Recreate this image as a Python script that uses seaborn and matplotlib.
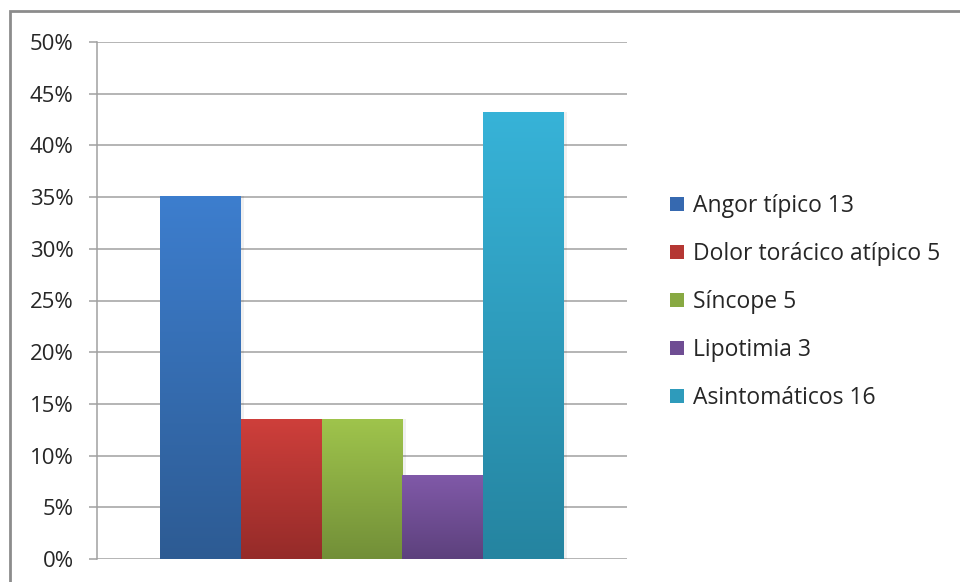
import numpy as np
import pandas as pd
import matplotlib
matplotlib.use("Agg")
import matplotlib.pyplot as plt
import matplotlib.colors as mcolors
from matplotlib.patches import Rectangle
from matplotlib.ticker import MultipleLocator, PercentFormatter
import seaborn as sns

# Síntomas de presentación (porcentaje de pacientes)
categorias = ["Angor típico 13", "Dolor torácico atípico 5", "Síncope 5",
              "Lipotimia 3", "Asintomáticos 16"]
porcentajes = [35.1, 13.5, 13.5, 8.1, 43.2]

# gradient colours per bar: (top, bottom)
colores_sup = ["#3D7ECE", "#CE3F3B", "#9FC44C", "#8059A8", "#37B3D8"]
colores_inf = ["#2D5B93", "#952B29", "#728F38", "#5D417D", "#2584A0"]
colores_med = ["#3669B0", "#B53733", "#88A942", "#6F4D93", "#2E9BBB"]

df = pd.DataFrame({"categoria": categorias, "porcentaje": porcentajes})

sns.set_theme(style="white")
plt.rcParams["font.family"] = ["Open Sans", "DejaVu Sans"]

fig = plt.figure(figsize=(9.6, 5.82), dpi=100)
ax = fig.add_axes([97 / 960, 23 / 582, 530 / 960, 517 / 582])

sns.barplot(data=df, x="categoria", y="porcentaje", hue="categoria",
            palette=colores_med, width=1.0, dodge=False, legend=False,
            saturation=1, ax=ax, zorder=3)

# vertical gradient fill inside each bar
for patch, c_top, c_bot in zip(ax.patches, colores_sup, colores_inf):
    x0, y0 = patch.get_x(), patch.get_y()
    w, h = patch.get_width(), patch.get_height()
    cmap = mcolors.LinearSegmentedColormap.from_list("g", [c_bot, c_top])
    grad = np.linspace(0, 1, 256).reshape(-1, 1)
    im = ax.imshow(grad, cmap=cmap, origin="lower", aspect="auto",
                   extent=(x0, x0 + w, y0, y0 + h), zorder=3,
                   interpolation="bicubic")
    im.set_clip_path(patch)
    patch.set_facecolor("none")
    patch.set_edgecolor("none")
    # soft shadow on the right side of the bar
    ax.add_patch(Rectangle((x0 + w, y0), 0.04, h, facecolor="#000000",
                           alpha=0.06, edgecolor="none", zorder=2))

pad = 63 / 81
ax.set_xlim(-0.5 - pad, 4.5 + pad)
ax.set_ylim(0, 50)
ax.yaxis.set_major_locator(MultipleLocator(5))
ax.yaxis.set_major_formatter(PercentFormatter(decimals=0))
ax.set_xticks([])
ax.set_xlabel("")
ax.set_ylabel("")

ax.grid(axis="y", color="#A0A0A0", linewidth=1.1, zorder=0)
ax.set_axisbelow(True)
for side in ["top", "right", "bottom"]:
    ax.spines[side].set_visible(False)
ax.spines["left"].set_color("#A0A0A0")
ax.spines["left"].set_linewidth(1.1)
ax.tick_params(axis="y", which="major", length=5.8, width=1.1, color="#A0A0A0",
               direction="out", left=True, labelsize=16, labelcolor="#262626",
               pad=11)

# legend
handles = [Rectangle((0, 0), 1, 1, facecolor=c, edgecolor="none")
           for c in colores_med]
leg = fig.legend(handles, categorias, loc="center left",
                 bbox_to_anchor=(670 / 960, (582 - 302) / 582),
                 frameon=False, fontsize=16.5, handlelength=0.6,
                 handleheight=0.6, handletextpad=0.4, labelspacing=1.05,
                 borderpad=0, borderaxespad=0)
for t in leg.get_texts():
    t.set_color("#262626")

# outer chart frame
fig.patches.append(Rectangle((9.5 / 960, -0.05), 1.1, (582 - 10.5) / 582 + 0.05,
                             transform=fig.transFigure, fill=False,
                             edgecolor="#8C8C8C", linewidth=2, zorder=0))

fig.savefig("out.png", dpi=100, facecolor="white")
